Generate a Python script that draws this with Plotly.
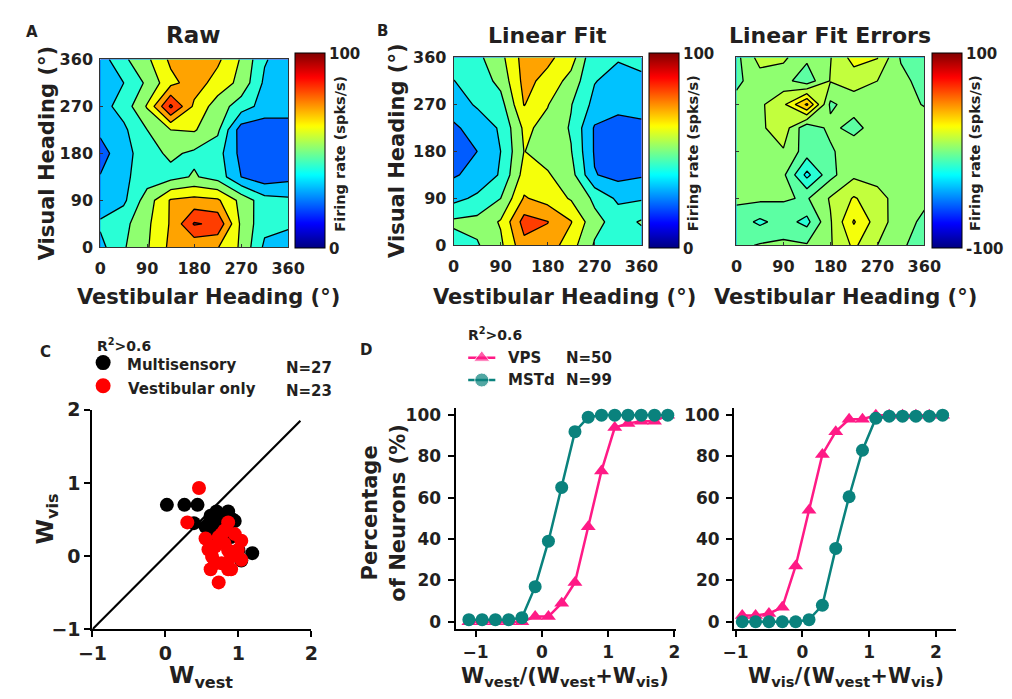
import plotly.graph_objects as go

# ---------------- data ----------------
HEADINGS = [0, 45, 90, 135, 180, 225, 270, 315, 360]
HEADING_TICKS = [0, 90, 180, 270, 360]

# rows: visual heading 0..360 (bottom -> top); columns: vestibular heading 0..360
RAW = [
    [37, 49, 59, 72.4, 72, 70.5, 58.4, 38, 34],
    [41.5, 47, 58, 71, 91, 88, 58, 43, 42],
    [34, 38, 55, 71, 73.3, 71.6, 57, 44, 42],
    [30.5, 38, 45, 46.7, 51, 46, 30, 24, 27],
    [26, 36, 46, 52, 48, 44, 27, 22, 25],
    [32, 38, 50, 60, 61, 52, 25, 24, 26],
    [36, 44, 61, 92, 68, 55, 45, 36, 34],
    [35, 40, 52, 67, 75, 66, 57, 38, 34],
    [35, 48, 58, 72, 77, 72, 59, 41, 34],
]
LINEAR_FIT = [
    [45, 49, 58, 77, 76, 64, 49, 44, 45],
    [52, 53, 61, 84, 80.3, 70.5, 53, 46, 51],
    [37, 42, 50, 71, 66, 59, 48, 38, 39],
    [29, 33, 41, 64, 61, 54, 30.5, 27, 29],
    [22, 30, 40, 60.2, 56, 50.5, 29, 23, 25],
    [28, 35, 41, 62, 57, 49, 29, 25, 27],
    [36, 41, 46, 70.5, 60.5, 50.5, 37, 34, 35],
    [39.8, 44, 53, 73, 67, 56, 40.5, 36, 38],
    [44, 47.5, 57, 74, 72.3, 64.8, 41, 41, 43],
]
FIT_ERRORS = [
    [-3, 1, 2, 1, 9, 22, 10, 1, -3],
    [-5, -12, -6, -13, 9, 31, 15, 4, -2],
    [2, 2, 1, -1, 11, 21, 14, 5, 2],
    [4, 3, 2, -23, -3, 8, 6, 4, 3],
    [4, 6, 9, -5, -2, 8, 6, 5, 4],
    [5, 8, 16, -8, 3, -4, 6, 5, 5],
    [3, 8, 18, 42, -2, 5, 6, 3, -0.5],
    [-2, 5, 3.6, -6, 10.5, 14, 10, 3, -4],
    [-3, 14, 12, 2, 9.5, 24, 20.5, -1, -4],
]

MULTI_WVEST = [0.02, 0.26, 0.44, 0.39, 0.70, 0.62, 0.66, 0.58, 0.68, 0.75, 0.80, 0.77, 0.86, 0.95,
               0.90, 1.19, 1.04, 1.00, 0.72, 0.64, 0.70, 0.82, 0.60, 0.74, 0.55, 0.85, 0.92]
MULTI_WVIS = [0.70, 0.70, 0.70, 0.45, 0.61, 0.55, 0.48, 0.38, 0.30, 0.52, 0.56, 0.42, 0.61, 0.48,
              0.26, 0.04, -0.06, 0.08, 0.40, 0.40, 0.56, 0.45, 0.45, 0.34, 0.40, 0.40, 0.50]
VEST_WVEST = [0.46, 0.30, 0.55, 0.86, 1.04, 0.64, 0.62, 0.73, 0.77, 0.81, 0.90, 1.04, 0.95, 0.68,
              0.86, 0.77, 0.99, 0.73, 0.81, 0.90, 0.59, 0.86, 0.68]
VEST_WVIS = [0.93, 0.46, 0.24, 0.46, 0.21, -0.01, -0.18, -0.36, -0.10, 0.17, -0.01, -0.05, 0.30, 0.13,
             -0.18, 0.30, 0.08, 0.26, 0.35, -0.18, 0.09, 0.08, -0.10]

D_LEFT_X = [-1.1, -0.9, -0.7, -0.5, -0.3, -0.1, 0.1, 0.3, 0.5, 0.7, 0.9, 1.1, 1.3, 1.5, 1.7, 1.9]
D_LEFT_MSTD = [1, 1, 1, 1, 2, 17, 39, 65, 92, 99, 100, 100, 100, 100, 100, 100]
D_LEFT_VPS = [0, 0, 0, 0, 0, 2.5, 2.5, 9, 19, 46, 73, 94, 96, 97, 97, 100]
D_RIGHT_X = [-0.9, -0.7, -0.5, -0.3, -0.1, 0.1, 0.3, 0.5, 0.7, 0.9, 1.1, 1.3, 1.5, 1.7, 1.9, 2.1]
D_RIGHT_MSTD = [0, 0, 0, 0, 0, 1, 8, 35.5, 60.5, 83, 98.5, 99.5, 99.5, 99.5, 99.5, 100]
D_RIGHT_VPS = [3, 3, 4, 7, 27, 54, 81, 92, 98, 98, 100, 100, 100, 100, 100, 100]

# ---------------- style ----------------
W, H = 1012, 699
FONT = "DejaVu Sans"
TXT = "#231f20"
PINK = "#ff1a86"
TEAL = "#0a827d"


def hx(px):
    return px / W


def hy(py):
    return 1 - py / H


def jet(t):
    t = min(1.0, max(0.0, t))
    r = min(1.0, max(0.0, 1.5 - abs(4 * t - 3)))
    g = min(1.0, max(0.0, 1.5 - abs(4 * t - 2)))
    b = min(1.0, max(0.0, 1.5 - abs(4 * t - 1)))
    return "rgb(%d,%d,%d)" % (round(r * 255), round(g * 255), round(b * 255))


JET = [[i / 100, jet(i / 100)] for i in range(101)]
OFF = 0.015
JET_FILL = [[i / 100, jet(i / 100 + OFF)] for i in range(101)]


def bfont(size, color=TXT):
    return dict(family=FONT, size=size, color=color, weight="bold")


fig = go.Figure()

# ---------------- heat maps ----------------
contour_specs = [
    ("x", "y", RAW, 10, 100),
    ("x2", "y2", LINEAR_FIT, 10, 100),
    ("x3", "y3", FIT_ERRORS, -90, 100),
]
for xa, ya, z, s, e in contour_specs:
    fig.add_trace(go.Contour(
        x=HEADINGS, y=HEADINGS, z=z, xaxis=xa, yaxis=ya,
        colorscale=JET_FILL, showscale=False, autocontour=False,
        contours=dict(start=s, end=e, size=10, coloring="fill", showlines=True),
        line=dict(color="black", width=1.3, smoothing=0),
        hoverinfo="skip",
    ))

# colour bars (continuous jet)
cbars = [("x", "y", 289, 0, 100), ("x2", "y2", 655, 0, 100), ("x3", "y3", 947, -100, 100)]
for xa, ya, px, lo, hi in cbars:
    fig.add_trace(go.Scatter(
        x=[None], y=[None], xaxis=xa, yaxis=ya, mode="markers", showlegend=False,
        marker=dict(color=[lo], cmin=lo, cmax=hi, colorscale=JET, showscale=True,
                    colorbar=dict(x=hx(px), xanchor="left", y=hy(245), yanchor="bottom",
                                  len=195, lenmode="pixels", thickness=30, thicknessmode="pixels",
                                  outlinewidth=1, outlinecolor="black", xpad=0, ypad=0,
                                  tickvals=[lo, hi], ticktext=[str(lo), str(hi)], ticks="",
                                  tickfont=bfont(15))),
    ))

# ---------------- panel C scatter ----------------
fig.add_trace(go.Scatter(x=[-1, 1.85], y=[-1, 1.85], xaxis="x4", yaxis="y4", mode="lines",
                         line=dict(color="black", width=2.2), showlegend=False, hoverinfo="skip"))
fig.add_trace(go.Scatter(x=MULTI_WVEST, y=MULTI_WVIS, xaxis="x4", yaxis="y4", mode="markers",
                         marker=dict(color="black", size=14), showlegend=False))
fig.add_trace(go.Scatter(x=VEST_WVEST, y=VEST_WVIS, xaxis="x4", yaxis="y4", mode="markers",
                         marker=dict(color="#ff0000", size=14), showlegend=False))

# ---------------- panel D ----------------
for xa, ya, xs, vps, mstd in [("x5", "y5", D_LEFT_X, D_LEFT_VPS, D_LEFT_MSTD),
                              ("x6", "y6", D_RIGHT_X, D_RIGHT_VPS, D_RIGHT_MSTD)]:
    fig.add_trace(go.Scatter(x=xs, y=vps, xaxis=xa, yaxis=ya, mode="lines+markers",
                             line=dict(color=PINK, width=2.5),
                             marker=dict(symbol="triangle-up", size=13, color=PINK),
                             showlegend=False, cliponaxis=False))
    fig.add_trace(go.Scatter(x=xs, y=mstd, xaxis=xa, yaxis=ya, mode="lines+markers",
                             line=dict(color=TEAL, width=2.5),
                             marker=dict(symbol="circle", size=13, color=TEAL),
                             showlegend=False, cliponaxis=False))

# ---------------- legend glyphs (overlay axis in pixel units) ----------------
fig.add_trace(go.Scatter(x=[91], y=[363], xaxis="x7", yaxis="y7", mode="markers",
                         marker=dict(color="black", size=15), showlegend=False, hoverinfo="skip"))
fig.add_trace(go.Scatter(x=[91], y=[387], xaxis="x7", yaxis="y7", mode="markers",
                         marker=dict(color="#ff0000", size=15), showlegend=False, hoverinfo="skip"))
fig.add_trace(go.Scatter(x=[468, 482, 496], y=[358, 358, 358], xaxis="x7", yaxis="y7",
                         mode="lines+markers", line=dict(color=PINK, width=2.5),
                         marker=dict(symbol="triangle-up", size=[0, 14, 0], color=PINK),
                         showlegend=False, hoverinfo="skip"))
fig.add_trace(go.Scatter(x=[468, 482, 496], y=[381, 381, 381], xaxis="x7", yaxis="y7",
                         mode="lines+markers", line=dict(color=TEAL, width=2.5),
                         marker=dict(symbol="circle", size=[0, 14, 0], color=TEAL),
                         showlegend=False, hoverinfo="skip"))

# ---------------- axes ----------------
def heading_axes(xd, yd, ylab=True):
    common = dict(range=[0, 360], tickvals=HEADING_TICKS, showline=True, mirror=True,
                  linecolor="#333", linewidth=1, ticks="inside", ticklen=3, tickcolor="#333",
                  showgrid=False, zeroline=False, tickfont=bfont(16), fixedrange=True)
    xax = dict(domain=[hx(xd[0]), hx(xd[1])], ticklabelstandoff=6, **common)
    yax = dict(domain=[hy(yd[1]), hy(yd[0])], ticklabelstandoff=3, showticklabels=ylab, **common)
    return xax, yax


xa1, ya1 = heading_axes((88, 282), (50, 244))
xa2, ya2 = heading_axes((453, 647), (48, 242))
xa3, ya3 = heading_axes((745, 939), (48, 242), ylab=False)

plain = dict(showline=True, linecolor="black", linewidth=2.2, ticks="outside", ticklen=6,
             tickwidth=2, tickcolor="black", showgrid=False, zeroline=False, fixedrange=True)

layout_axes = dict(
    xaxis=dict(anchor="y", **xa1), yaxis=dict(anchor="x", **ya1),
    xaxis2=dict(anchor="y2", **xa2), yaxis2=dict(anchor="x2", **ya2),
    xaxis3=dict(anchor="y3", **xa3), yaxis3=dict(anchor="x3", **ya3),
    xaxis4=dict(anchor="y4", domain=[hx(80), hx(306)], range=[-1, 2], tickvals=[-1, 0, 1, 2],
                tickfont=bfont(19), **plain),
    yaxis4=dict(anchor="x4", domain=[hy(638.3), hy(411.7)], range=[-1, 2], tickvals=[-1, 0, 1, 2],
                tickfont=bfont(19), **plain),
    xaxis5=dict(anchor="y5", domain=[hx(455), hx(683)], range=[-1.3, 2.03], tickvals=[-1, 0, 1, 2],
                tickfont=bfont(17), **plain),
    yaxis5=dict(anchor="x5", domain=[hy(638.3), hy(410)], range=[-3.6, 103.4],
                tickvals=[0, 20, 40, 60, 80, 100], tickfont=bfont(17), ticklabelstandoff=3, **plain),
    xaxis6=dict(anchor="y6", domain=[hx(742.7), hx(971.7)], range=[-1.02, 2.3], tickvals=[-1, 0, 1, 2],
                tickfont=bfont(17), **plain),
    yaxis6=dict(anchor="x6", domain=[hy(638.3), hy(410)], range=[-3.6, 103.4],
                tickvals=[0, 20, 40, 60, 80, 100], tickfont=bfont(17), ticklabelstandoff=3, **plain),
    xaxis7=dict(anchor="y7", domain=[0, 1], range=[0, W], visible=False, fixedrange=True),
    yaxis7=dict(anchor="x7", domain=[0, 1], range=[H, 0], visible=False, fixedrange=True),
)

# ---------------- text ----------------
ann = []


def text(t, x, y, size, angle=0, xanchor="center", yanchor="middle", bold=True):
    f = bfont(size) if bold else dict(family=FONT, size=size, color=TXT)
    ann.append(dict(text=t, x=hx(x), y=hy(y), xref="paper", yref="paper", showarrow=False,
                    font=f, textangle=angle, xanchor=xanchor, yanchor=yanchor))


text("Raw", 184, 25, 23)
text("Linear Fit", 550, 25, 22)
text("Linear Fit Errors", 842, 25, 22)
for lab, x, y in [("A", 18, 22), ("B", 379, 21), ("C", 32, 352), ("D", 362, 350)]:
    text(lab, x, y, 15)
for cx in (200, 567, 858):
    text("Vestibular Heading (°)", cx, 295, 21)
text("Visual Heading (°)", 33, 147, 21, angle=-90)
text("Visual Heading (°)", 395, 145, 21, angle=-90)
for cx in (336, 701, 992):
    text("Firing rate (spks/s)", cx, 147, 14.5, angle=-90)

text("W<sub>vest</sub>", 192, 688, 23)
text("W<sub>vis</sub>", 33, 524, 23, angle=-90)
text("R<sup>2</sup>>0.6", 83, 345, 14, xanchor="left")
text("Multisensory", 114, 366, 15, xanchor="left")
text("Vestibular only", 115, 390, 15, xanchor="left")
text("N=27", 278, 369, 15, xanchor="left")
text("N=23", 278, 392, 15, xanchor="left")

text("R<sup>2</sup>>0.6", 466, 333, 14, xanchor="left")
text("VPS", 507, 358, 15, xanchor="left")
text("MSTd", 507, 381, 15, xanchor="left")
text("N=50", 567, 358, 15, xanchor="left")
text("N=99", 567, 381, 15, xanchor="left")
text("Percentage<br>of Neurons (%)", 381, 518, 21, angle=-90)
text("W<sub>vest</sub>/(W<sub>vest</sub>+W<sub>vis</sub>)", 568, 688, 21)
text("W<sub>vis</sub>/(W<sub>vest</sub>+W<sub>vis</sub>)", 858, 688, 21)

fig.update_layout(
    width=W, height=H, margin=dict(l=0, r=0, t=0, b=0),
    paper_bgcolor="white", plot_bgcolor="rgba(0,0,0,0)",
    showlegend=False, annotations=ann, font=dict(family=FONT, color=TXT),
    **layout_axes,
)

fig.write_html("out.html", config={"displayModeBar": False},
               post_script="document.body.style.margin='0';")
